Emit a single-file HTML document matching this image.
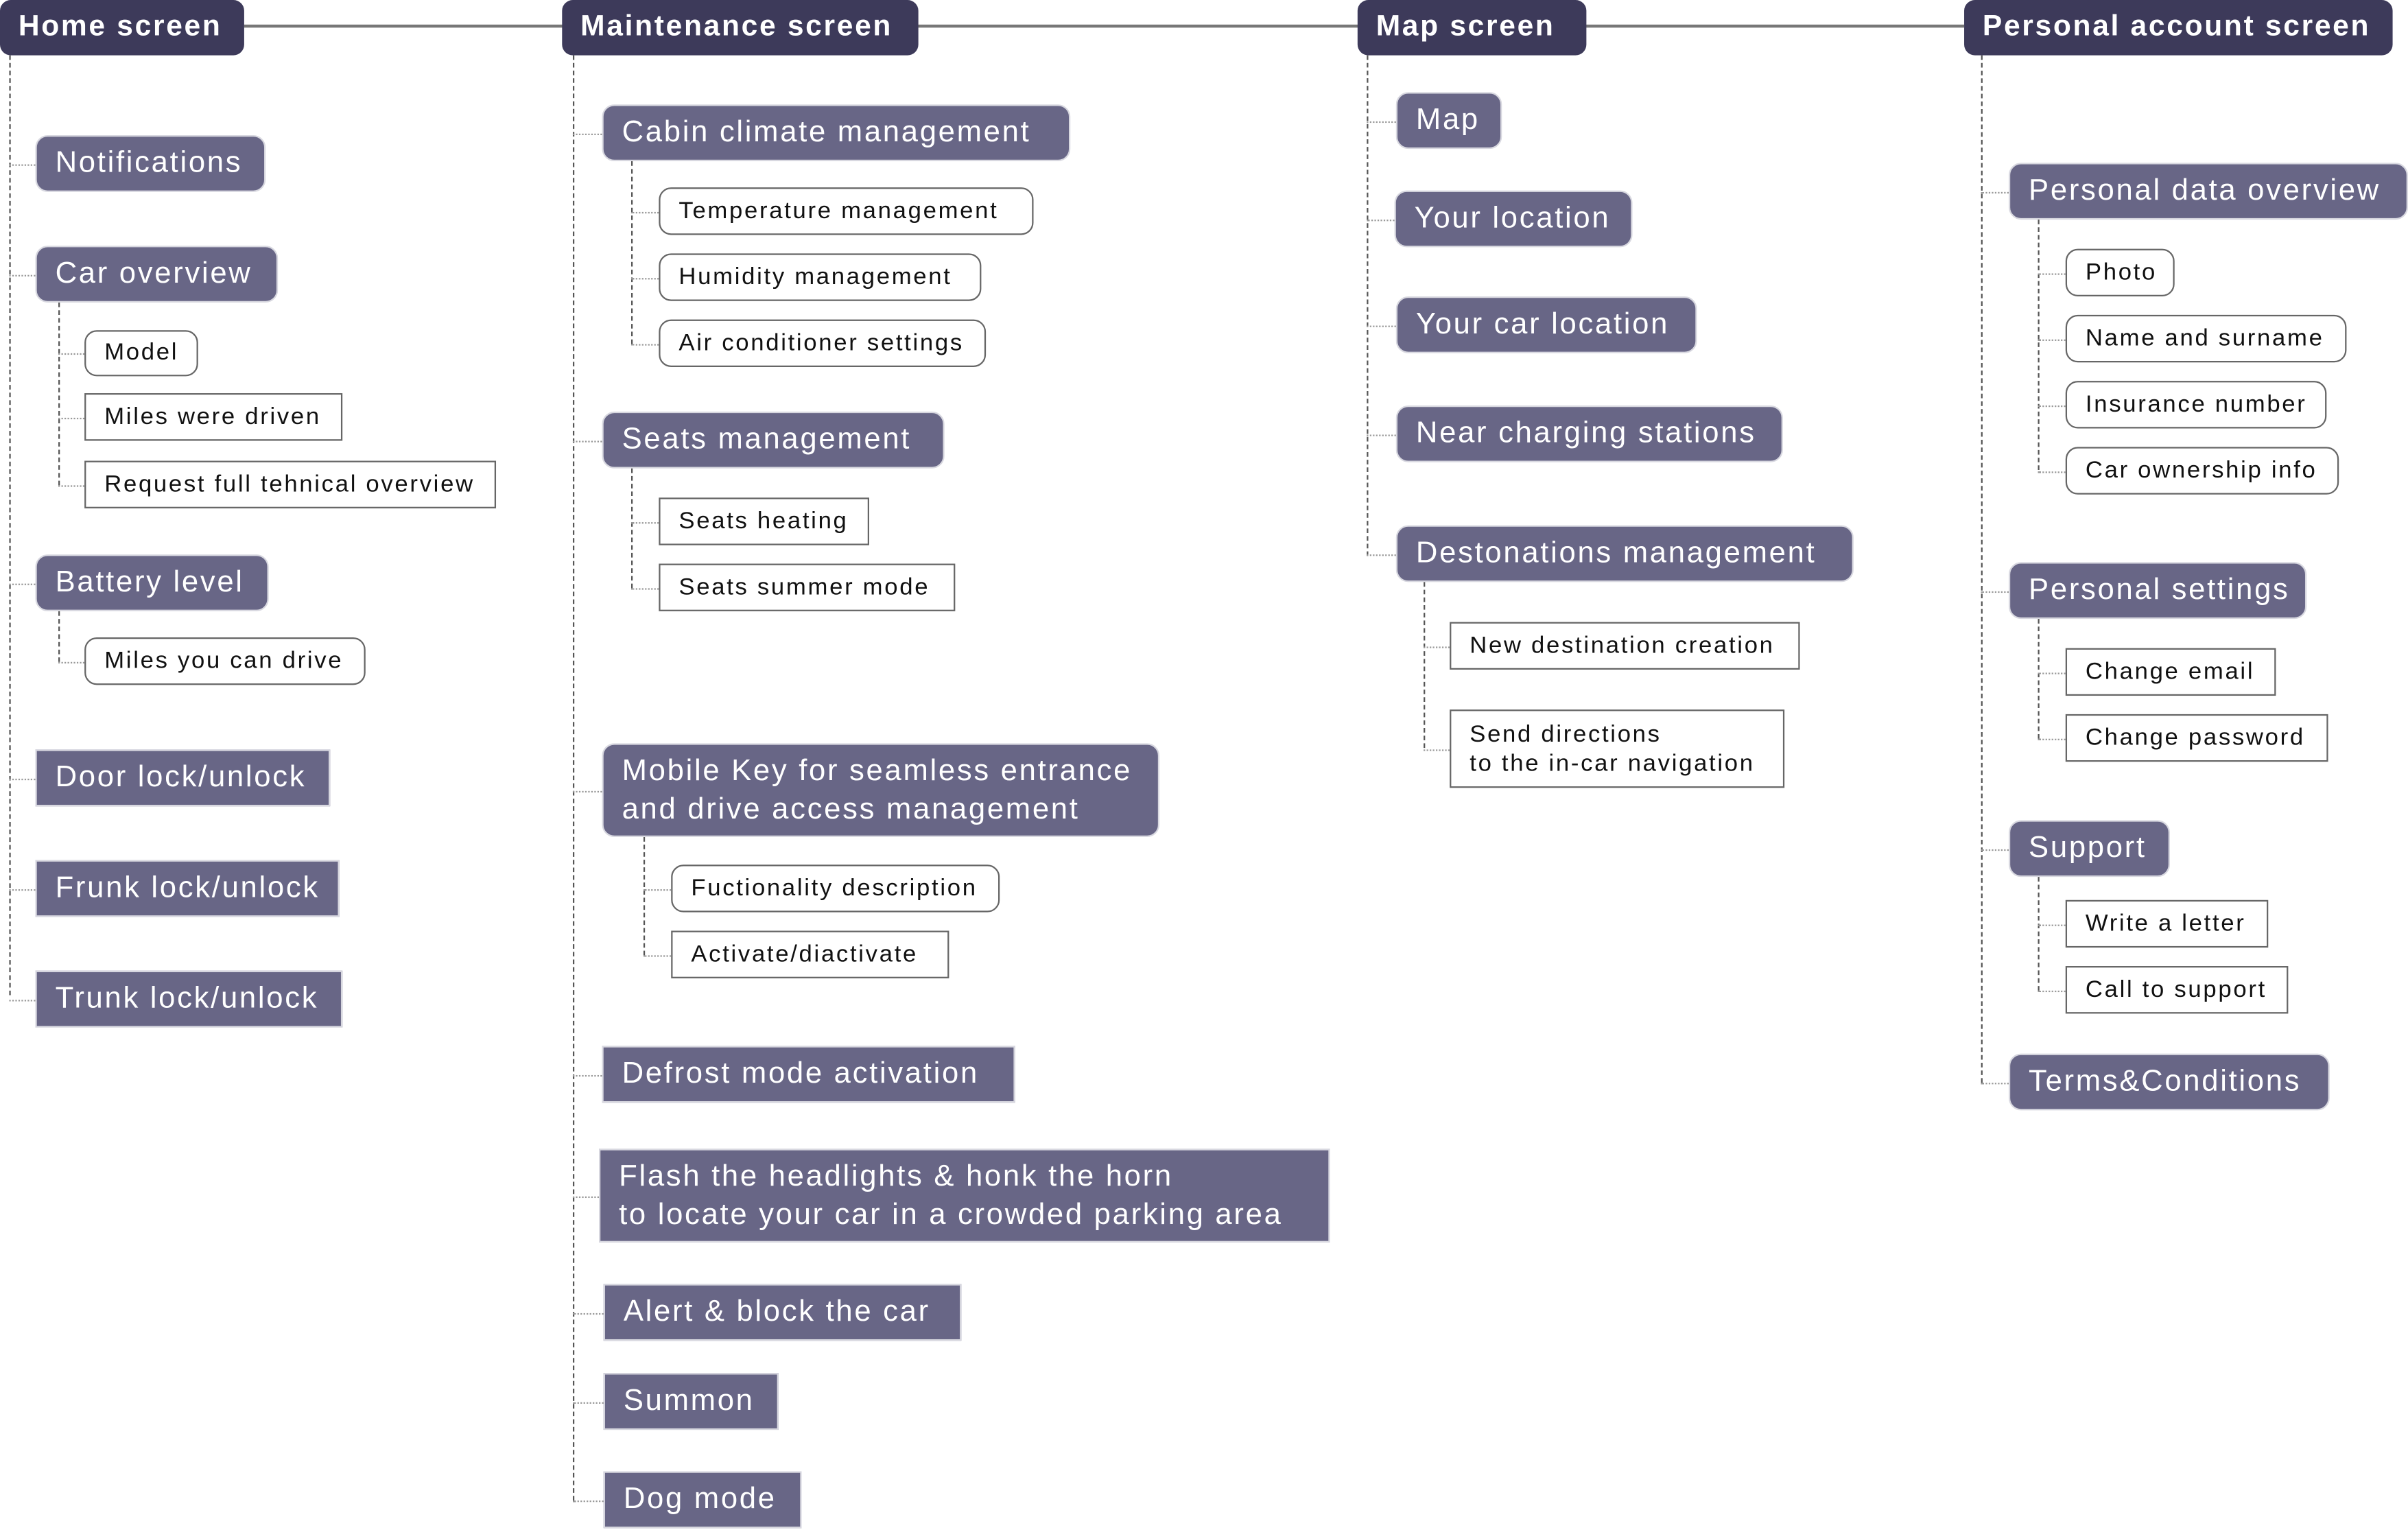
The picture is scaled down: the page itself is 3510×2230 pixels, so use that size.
<!DOCTYPE html>
<html><head><meta charset="utf-8"><style>
html,body{margin:0;padding:0;background:#fff;width:3510px;height:2229px;overflow:hidden}
#w{position:absolute;left:0;top:0;width:1568px;height:996px;transform:scale(2.2385);transform-origin:0 0;font-family:"Liberation Sans",sans-serif}
.n{position:absolute;box-sizing:border-box;white-space:nowrap;display:flex;align-items:center;overflow:hidden}
.h{background:#3d3a5a;color:#fff;font-weight:bold;font-size:19px;border-radius:7px;padding-left:12px;letter-spacing:1.2px}
.m{background:#686686;color:#fff;font-size:19.5px;padding-left:12px;border:1px solid #d8d8e0;letter-spacing:1.2px}
.r{border-radius:8px}
.s{background:#fff;color:#111;font-size:15.5px;padding-left:12px;border:1px solid #666;letter-spacing:1.2px}
.vl{position:absolute;border-left:1px dashed #555;width:0}
.hl{position:absolute;border-top:1px dotted #999;height:0}
</style></head><body><div id="w">
<div style="position:absolute;left:159px;top:16px;width:1120px;height:2px;background:#777"></div>
</div>
<script>
var W=document.getElementById('w');
function box(c,x,y,w,h,t,lh){var d=document.createElement('div');d.className='n '+c;d.style.left=x+'px';d.style.top=y+'px';d.style.width=w+'px';d.style.height=h+'px';d.innerHTML=t;if(lh)d.style.lineHeight=lh;W.appendChild(d);}
function v(x,y1,y2){var d=document.createElement('div');d.className='vl';d.style.left=x+'px';d.style.top=y1+'px';d.style.height=(y2-y1)+'px';W.appendChild(d);}
function hz(x1,x2,y){var d=document.createElement('div');d.className='hl';d.style.left=x1+'px';d.style.top=y+'px';d.style.width=(x2-x1)+'px';W.appendChild(d);}
function kid(px,c,x,y,w,h,t,lh){box(c,x,y,w,h,t,lh);hz(px,x,Math.round(y+h/2));}
box('h',0,0,159,36,'Home screen');box('h',366,0,232,36,'Maintenance screen');box('h',884,0,149,36,'Map screen');box('h',1279,0,279,36,'Personal account screen');
v(6,36,648);v(373,36,977);v(890,36,362);v(1290,36,705);
kid(6,'m r',23,88,150,37,'Notifications');
kid(6,'m r',23,160,158,37,'Car overview');v(38,197,316);
kid(38,'s r',55,215,74,30,'Model');kid(38,'s',55,256,168,31,'Miles were driven');kid(38,'s',55,300,268,31,'Request full tehnical overview');
kid(6,'m r',23,361,152,37,'Battery level');v(38,398,431);kid(38,'s r',55,415,183,31,'Miles you can drive');
kid(6,'m',23,488,192,37,'Door lock/unlock');kid(6,'m',23,560,198,37,'Frunk lock/unlock');kid(6,'m',23,632,200,37,'Trunk lock/unlock');
kid(373,'m r',392,68,305,37,'Cabin climate management');v(411,105,224);
kid(411,'s r',429,122,244,31,'Temperature management');kid(411,'s r',429,165,210,31,'Humidity management');kid(411,'s r',429,208,213,31,'Air conditioner settings');
kid(373,'m r',392,268,223,37,'Seats management');v(411,305,383);
kid(411,'s',429,324,137,31,'Seats heating');kid(411,'s',429,367,193,31,'Seats summer mode');
kid(373,'m r',392,484,363,61,'Mobile Key for seamless entrance<br>and drive access management','25px');v(419,545,622);
kid(419,'s r',437,563,214,31,'Fuctionality description');kid(419,'s',437,606,181,31,'Activate/diactivate');
kid(373,'m',392,681,269,37,'Defrost mode activation');
kid(373,'m',390,748,476,61,'Flash the headlights &amp; honk the horn<br>to locate your car in a crowded parking area','25px');
kid(373,'m',393,836,233,37,'Alert &amp; block the car');kid(373,'m',393,894,114,37,'Summon');kid(373,'m',393,958,129,37,'Dog mode');
kid(890,'m r',909,60,69,37,'Map');kid(890,'m r',908,124,155,37,'Your location');kid(890,'m r',909,193,196,37,'Your car location');
kid(890,'m r',909,264,252,37,'Near charging stations');kid(890,'m r',909,342,298,37,'Destonations management');v(927,379,487);
kid(927,'s',944,405,228,31,'New destination creation');kid(927,'s',944,462,218,51,'Send directions<br>to the in-car navigation','19px');
kid(1290,'m r',1308,106,260,37,'Personal data overview');v(1327,143,306);
kid(1327,'s r',1345,162,71,31,'Photo');kid(1327,'s r',1345,205,183,31,'Name and surname');kid(1327,'s r',1345,248,170,31,'Insurance number');kid(1327,'s r',1345,291,178,31,'Car ownership info');
kid(1290,'m r',1308,366,194,37,'Personal settings');v(1327,403,481);
kid(1327,'s',1345,422,137,31,'Change email');kid(1327,'s',1345,465,171,31,'Change password');
kid(1290,'m r',1308,534,105,37,'Support');v(1327,571,645);
kid(1327,'s',1345,586,132,31,'Write a letter');kid(1327,'s',1345,629,145,31,'Call to support');
kid(1290,'m r',1308,686,209,37,'Terms&amp;Conditions');
</script></body></html>
